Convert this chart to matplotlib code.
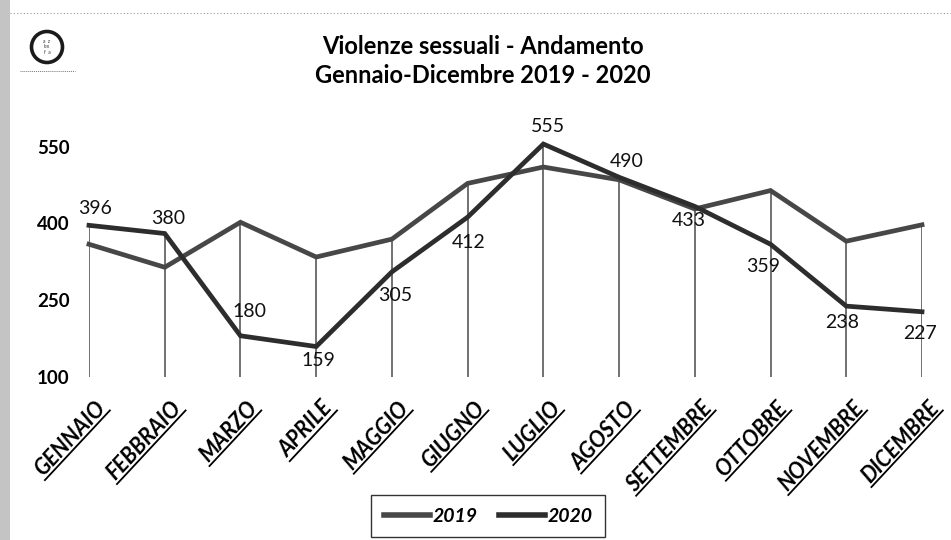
import numpy as np
import matplotlib
matplotlib.use("Agg")
import matplotlib.pyplot as plt
from matplotlib.lines import Line2D
from matplotlib.patches import Ellipse, Rectangle

# data
mesi = ["GENNAIO", "FEBBRAIO", "MARZO", "APRILE", "MAGGIO", "GIUGNO",
        "LUGLIO", "AGOSTO", "SETTEMBRE", "OTTOBRE", "NOVEMBRE", "DICEMBRE"]
v2019 = [359, 314, 402, 334, 369, 478, 510, 485, 428, 464, 365, 397]
v2020 = [396, 380, 180, 159, 305, 412, 555, 490, 433, 359, 238, 227]
yticks = [100, 250, 400, 550]
titolo = "Violenze sessuali - Andamento\nGennaio-Dicembre 2019 - 2020"

plt.rcParams['font.family'] = ['Lato', 'DejaVu Sans']

W, H = 951, 540
fig = plt.figure(figsize=(W / 100, H / 100), dpi=100)
fig.patch.set_facecolor("white")

# scan-ish edges
fig.add_artist(Rectangle((0, 0), 10 / W, 1, transform=fig.transFigure,
                         color="#c4c4c4", lw=0, zorder=0))
fig.add_artist(Line2D([10 / W, 1], [1 - 13 / H, 1 - 13 / H], transform=fig.transFigure,
                      color="#9a9a9a", lw=0.8, ls=(0, (1, 2))))

ax = fig.add_axes([89 / W, (H - 376.7) / H, (922 - 89) / W, (376.7 - 121) / H])

x = np.arange(len(mesi))
ax.set_xlim(0, len(mesi) - 1)
ax.set_ylim(100, 600)

# drop lines
top = np.maximum(v2019, v2020)
ax.vlines(x, 100, top, color="#4a4a4a", lw=1.1, zorder=1)

ax.plot(x, v2019, color="#474747", lw=3.4, label="2019", solid_joinstyle="miter",
        clip_on=False, zorder=3)
ax.plot(x, v2020, color="#2d2d2d", lw=3.4, label="2020", solid_joinstyle="miter",
        clip_on=False, zorder=4)

# data labels for 2020
offs = [(6, 17), (3, 15), (9, 24), (2, -14), (3, -24), (1, -25),
        (5, 18), (8, 16), (-6, -14), (-7, -22), (-4, -16), (-2, -22)]
for i, v in enumerate(v2020):
    dx, dy = offs[i]
    ax.annotate(str(v), (i, v), xytext=(dx * 0.72, dy * 0.72), textcoords="offset points",
                ha="center", va="center", fontsize=14, color="#111111", zorder=5)

for s in ax.spines.values():
    s.set_visible(False)
ax.set_yticks(yticks)
ax.set_yticklabels([str(t) for t in yticks], fontsize=13.5, fontweight="bold")
ax.tick_params(axis="y", length=0, pad=14)
ax.set_xticks([])

# month labels, rotated and underlined
labs = []
for i, m in enumerate(mesi):
    t = ax.annotate(m, (i, 100), xytext=(4, -15), textcoords="offset points",
                    ha="right", va="top", rotation=0, rotation_mode="anchor",
                    fontsize=15.5, fontweight="bold", fontstyle="italic", annotation_clip=False)
    labs.append(t)

fig.canvas.draw()
r = fig.canvas.get_renderer()
ang = np.deg2rad(47)
rot = np.array([[np.cos(ang), -np.sin(ang)], [np.sin(ang), np.cos(ang)]])
f = fig.transFigure.inverted()
for t in labs:
    bb = t.get_window_extent(r)
    a = np.array([bb.x1, bb.y1])
    p0 = np.array([bb.x0 - 1, bb.y0 + 1]) - a
    p1 = np.array([bb.x1 + 1, bb.y0 + 1]) - a
    u0 = f.transform(a + rot @ p0)
    u1 = f.transform(a + rot @ p1)
    fig.add_artist(Line2D([u0[0], u1[0]], [u0[1], u1[1]], transform=fig.transFigure,
                          color="black", lw=1.3))
    t.set_rotation(47)

# title
fig.text(483 / W, 1 - 61 / H, titolo, ha="center", va="center", fontsize=17,
         fontweight="bold", linespacing=1.35)

# logo
fig.add_artist(Ellipse((47 / W, 1 - 47 / H), 31 / W, 31 / H, transform=fig.transFigure,
                       fill=False, lw=2.6, color="#1a1a1a"))
fig.text(47 / W, 1 - 47 / H, "a  z\nlex\nf  a", ha="center", va="center", fontsize=3.5,
         color="#333333", linespacing=1.1)
fig.add_artist(Line2D([20 / W, 75 / W], [1 - 71 / H, 1 - 71 / H], transform=fig.transFigure,
                      color="#777777", lw=0.7, ls=(0, (1, 1))))

leg = fig.legend(loc="center", bbox_to_anchor=(488 / W, 1 - 516 / H), ncol=2,
                 prop={"weight": "bold", "style": "italic", "size": 14},
                 frameon=True, fancybox=False, handlelength=2.4, handletextpad=0.1,
                 columnspacing=1.1, borderpad=0.65)
leg.get_frame().set_edgecolor("black")
leg.get_frame().set_linewidth(1.0)
for h in leg.get_lines():
    h.set_linewidth(4)

fig.savefig("out.png", dpi=100)
